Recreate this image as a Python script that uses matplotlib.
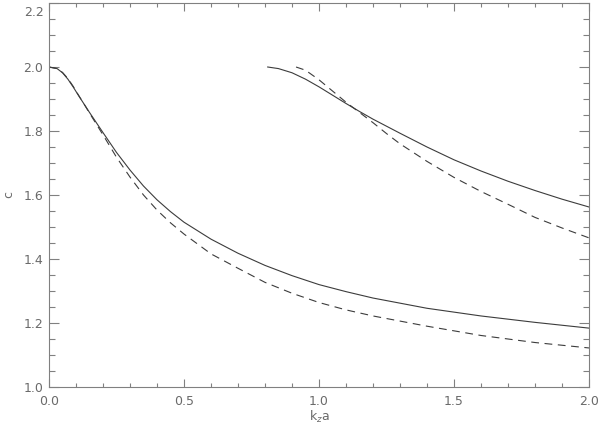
import numpy as np
import matplotlib
matplotlib.use("Agg")
import matplotlib.pyplot as plt
from matplotlib.ticker import MultipleLocator
import matplotlib.transforms as mtransforms

# branche basse (k_z a de 0 a 2)
x_bas = [0.0, 0.03, 0.05, 0.07, 0.09, 0.11, 0.13, 0.15, 0.2, 0.25, 0.3, 0.35, 0.4,
         0.45, 0.5, 0.6, 0.7, 0.8, 0.9, 1.0, 1.1, 1.2, 1.4, 1.6, 1.8, 2.0]
c_bas_plein = [2.000, 1.995, 1.982, 1.962, 1.937, 1.910, 1.884, 1.858, 1.795, 1.733,
               1.678, 1.628, 1.585, 1.548, 1.515, 1.462, 1.418, 1.380, 1.348, 1.320,
               1.298, 1.278, 1.246, 1.222, 1.202, 1.184]
c_bas_tirets = [2.000, 1.995, 1.983, 1.964, 1.939, 1.911, 1.884, 1.856, 1.788, 1.718,
                1.656, 1.600, 1.553, 1.513, 1.478, 1.416, 1.371, 1.327, 1.293, 1.264,
                1.241, 1.222, 1.190, 1.161, 1.139, 1.122]

# branche haute
x_haut_plein = [0.81, 0.85, 0.9, 0.95, 1.0, 1.05, 1.1, 1.15, 1.2, 1.3, 1.4, 1.5,
                1.6, 1.7, 1.8, 1.9, 2.0]
c_haut_plein = [2.000, 1.995, 1.982, 1.962, 1.938, 1.912, 1.886, 1.861, 1.837, 1.793,
                1.750, 1.710, 1.675, 1.643, 1.614, 1.587, 1.5625]
x_haut_tirets = [0.915, 0.95, 1.0, 1.05, 1.1, 1.15, 1.2, 1.25, 1.3, 1.4, 1.5, 1.6,
                 1.7, 1.8, 1.9, 2.0]
c_haut_tirets = [2.000, 1.990, 1.960, 1.925, 1.890, 1.858, 1.826, 1.792, 1.760, 1.705,
                 1.655, 1.611, 1.571, 1.530, 1.497, 1.466]

gris_ligne = '#3c3c3c'
gris_axe = '#808080'
gris_texte = '#6a6a6a'

fig = plt.figure(figsize=(6, 4.28), dpi=100)
ax = fig.add_axes([49 / 600, 41 / 428, 540 / 600, 384 / 428])

ax.plot(x_bas, c_bas_plein, color=gris_ligne, lw=0.8)
ax.plot(x_bas, c_bas_tirets, color=gris_ligne, lw=0.8, dashes=(7, 5))
ax.plot(x_haut_plein, c_haut_plein, color=gris_ligne, lw=0.8)
ax.plot(x_haut_tirets, c_haut_tirets, color=gris_ligne, lw=0.8, dashes=(7, 5))

ax.set_xlim(0, 2.0)
ax.set_ylim(1.0, 2.2)
ax.xaxis.set_major_locator(MultipleLocator(0.5))
ax.xaxis.set_minor_locator(MultipleLocator(0.1))
ax.yaxis.set_major_locator(MultipleLocator(0.2))
ax.yaxis.set_minor_locator(MultipleLocator(0.05))
ax.xaxis.set_major_formatter(matplotlib.ticker.FormatStrFormatter('%.1f'))
ax.yaxis.set_major_formatter(matplotlib.ticker.FormatStrFormatter('%.1f'))

for s in ax.spines.values():
    s.set_color(gris_axe)
    s.set_linewidth(0.8)

ax.tick_params(which='both', direction='in', top=True, right=True,
               color=gris_axe, width=0.8, labelcolor=gris_texte, labelsize=9)
ax.tick_params(axis='x', which='major', length=6, pad=6)
ax.tick_params(axis='x', which='minor', length=3)
ax.tick_params(axis='y', which='major', length=7.5, pad=4)
ax.tick_params(axis='y', which='minor', length=4)

ax.set_xlabel(r'k$_z$a', color=gris_texte, fontsize=9, labelpad=0.5)
ax.set_ylabel('c', color=gris_texte, fontsize=9, labelpad=6)

# le libelle 2.2 est descendu pour rester dans l'image
fig.canvas.draw()
decal = mtransforms.ScaledTranslation(0, -6 / 72, fig.dpi_scale_trans)
for lab in ax.get_yticklabels():
    if lab.get_text() == '2.2':
        lab.set_transform(lab.get_transform() + decal)

plt.savefig('out.png', dpi=100)
